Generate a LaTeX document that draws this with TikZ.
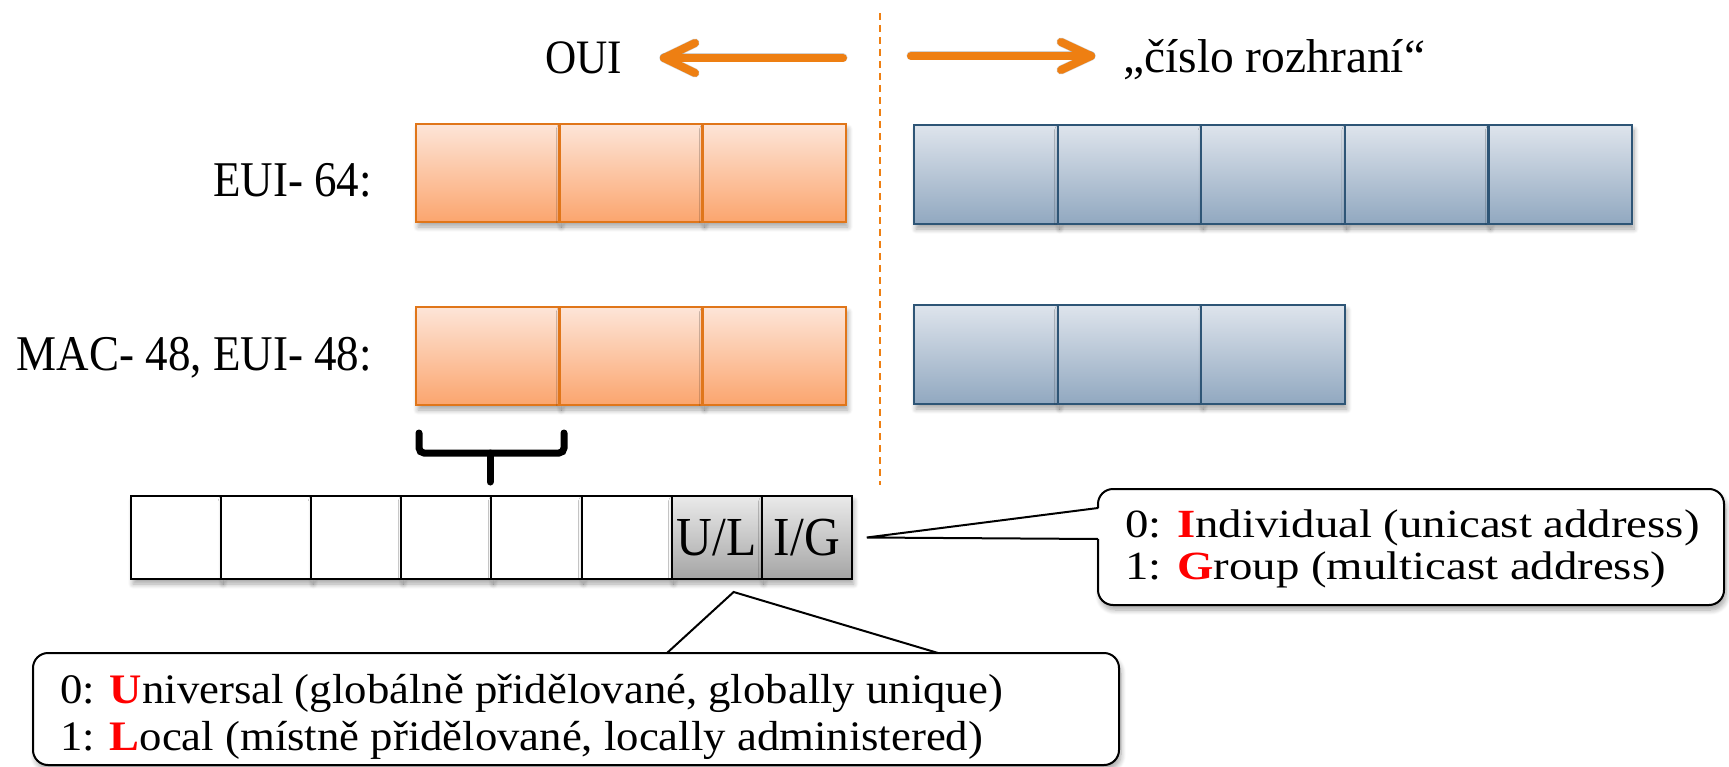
\documentclass[tikz,border=0pt]{standalone}
\usepackage{fontspec}
\setmainfont{Liberation Serif}
\newfontfamily\labfont{Liberation Serif}[FakeStretch=0.9]
\newfontfamily\igfont{Liberation Serif}[FakeStretch=1.17]
\newfontfamily\ulfont{Liberation Serif}[FakeStretch=1.065]
\usetikzlibrary{shadows.blur,calc}

\definecolor{oline}{HTML}{E0761A}
\definecolor{otop}{HTML}{FDE5D8}
\definecolor{obot}{HTML}{FBA56E}
\definecolor{bline}{HTML}{2E5576}
\definecolor{btop}{HTML}{DEE4EC}
\definecolor{bbot}{HTML}{91A8C0}
\definecolor{gtop}{HTML}{EAEAEA}
\definecolor{gbot}{HTML}{A5A5A5}
\definecolor{arrorange}{HTML}{EE7F12}
\definecolor{redletter}{HTML}{FF0000}

\begin{document}
\begin{tikzpicture}[x=1pt,y=-1pt,
  softshadow/.style={blur shadow={shadow xshift=2pt, shadow yshift=-5pt,
      shadow blur radius=5pt, shadow blur steps=8, shadow opacity=35}},
  cellO/.style={draw=oline, line width=2.8pt, top color=otop, bottom color=obot,
      minimum width=143.3pt, minimum height=98pt, inner sep=0pt, outer sep=0pt,
      anchor=north west, softshadow},
  cellB/.style={draw=bline, line width=2.2pt, top color=btop, bottom color=bbot,
      minimum width=143.6pt, minimum height=99pt, inner sep=0pt, outer sep=0pt,
      anchor=north west, softshadow},
  cellW/.style={draw=black, line width=2pt, fill=white,
      minimum width=90.1pt, minimum height=83pt, inner sep=0pt, outer sep=0pt,
      anchor=north west, softshadow},
  cellG/.style={cellW, top color=gtop, bottom color=gbot,
      font=\labfont\fontsize{55}{60}\selectfont},
  labtext/.style={inner sep=0pt, font=\labfont\fontsize{50}{56}\selectfont},
  arrowline/.style={draw=arrorange, line width=8pt, line cap=round, line join=round},
  arrowshade/.style={draw=black, opacity=0.18, line width=9pt, line cap=round, line join=round},
  sepline/.style={draw=arrorange, line width=2pt, dash pattern=on 7pt off 5pt},
  bracket/.style={draw=black, line width=7pt, line cap=round, rounded corners=5pt},
  callbox/.style={draw=black, line width=2pt, fill=white, rounded corners=15pt,
      inner sep=0pt, outer sep=0pt, anchor=north west, softshadow},
  calltext/.style={inner sep=0pt, anchor=base west, align=left},
  pointer/.style={draw=black, line width=2pt, line join=miter},
]
\useasboundingbox (0,0) rectangle (1729,767);

% separator between OUI and interface part
\coordinate (dtop) at (880,13);
\coordinate (dbot) at (880,485);
\draw[sepline] (dtop) -- (dbot);

% headings with arrows
\node[labtext, anchor=base west, font=\labfont\fontsize{48}{52}\selectfont] (oui) at (545,74) {OUI};
\node[inner sep=0pt, anchor=base west, font=\fontsize{47.5}{52}\selectfont] (cislo) at (1123,73) {„číslo rozhraní“};

\coordinate (la0) at (843,58);
\coordinate (la1) at (664,58);
\coordinate (ra0) at (911,56);
\coordinate (ra1) at (1091,56);
\begin{scope}[shift={(3,6)}]
  \draw[arrowshade] (la0) -- (la1);
  \draw[arrowshade] ([shift={(31,-15)}]la1) -- (la1) -- ([shift={(31,15)}]la1);
  \draw[arrowshade] (ra0) -- (ra1);
  \draw[arrowshade] ([shift={(-30,-14)}]ra1) -- (ra1) -- ([shift={(-30,14)}]ra1);
\end{scope}
\draw[arrowline] (la0) -- (la1);
\draw[arrowline] ([shift={(31,-15)}]la1) -- (la1) -- ([shift={(31,15)}]la1);
\draw[arrowline] (ra0) -- (ra1);
\draw[arrowline] ([shift={(-30,-14)}]ra1) -- (ra1) -- ([shift={(-30,14)}]ra1);

% row labels
\node[labtext, anchor=base east] (leui) at (372,197) {EUI- 64:};
\node[labtext, anchor=base east] (lmac) at (372,370) {MAC- 48, EUI- 48:};

% EUI-64: 3 bytes OUI + 5 bytes interface
\foreach \i in {0,1,2} {
  \node[cellO] (eo\i) at ({416+143.3*\i},124) {};
}
\foreach \i in {0,...,4} {
  \node[cellB] (eb\i) at ({914+143.6*\i},125) {};
}

% MAC-48 / EUI-48: 3 bytes OUI + 3 bytes interface
\foreach \i in {0,1,2} {
  \node[cellO] (mo\i) at ({416+143.3*\i},307) {};
}
\foreach \i in {0,1,2} {
  \node[cellB] (mb\i) at ({914+143.6*\i},305) {};
}

% bracket selecting the first byte
\coordinate (bl) at (419,433);
\coordinate (blc) at (419,453);
\coordinate (brc) at (564,453);
\coordinate (br) at (564,433);
\coordinate (bm) at (490,453);
\coordinate (bt) at (490,482);
\draw[bracket] (bl) -- (blc) -- (brc) -- (br);
\draw[bracket] (bm) -- (bt);

% bits of the first byte
\foreach \i in {0,...,5} {
  \node[cellW] (bit\i) at ({131+90.1*\i},496) {};
}
\node[cellG] (ul) at ({131+90.1*6},496) {U/L};
\node[cellG] (ig) at ({131+90.1*7},496) {I/G};

% callout for the I/G bit
\node[callbox, minimum width=626pt, minimum height=116pt] (igbox) at (1098,489) {};
\coordinate (igtip) at ([xshift=15pt]ig.east);
\coordinate (igup) at (1098,508);
\coordinate (iglo) at (1098,539);
\fill[white] ([xshift=3pt]igup) -- (igtip) -- ([xshift=3pt]iglo) -- cycle;
\draw[pointer] (igup) -- (igtip) -- (iglo);
\node[calltext, font=\igfont\fontsize{40}{42}\selectfont] (igtext) at (1125,579)
  {0: \textbf{\color{redletter}I}ndividual (unicast address)\\
   1: \textbf{\color{redletter}G}roup (multicast address)};

% callout for the U/L bit
\node[callbox, minimum width=1086pt, minimum height=112pt] (ulbox) at (33,653) {};
\coordinate (ultip) at ([shift={(17,13)}]ul.south);
\coordinate (ulleft) at (667,653);
\coordinate (ulright) at (938,653);
\fill[white] ([yshift=3pt]ulleft) -- (ultip) -- ([yshift=3pt]ulright) -- cycle;
\draw[pointer] (ulleft) -- (ultip) -- (ulright);
\node[calltext, font=\ulfont\fontsize{42}{47}\selectfont] (ultext) at (60,750)
  {0: \textbf{\color{redletter}U}niversal (globálně přidělované, globally unique)\\
   1: \textbf{\color{redletter}L}ocal (místně přidělované, locally administered)};
\end{tikzpicture}
\end{document}
